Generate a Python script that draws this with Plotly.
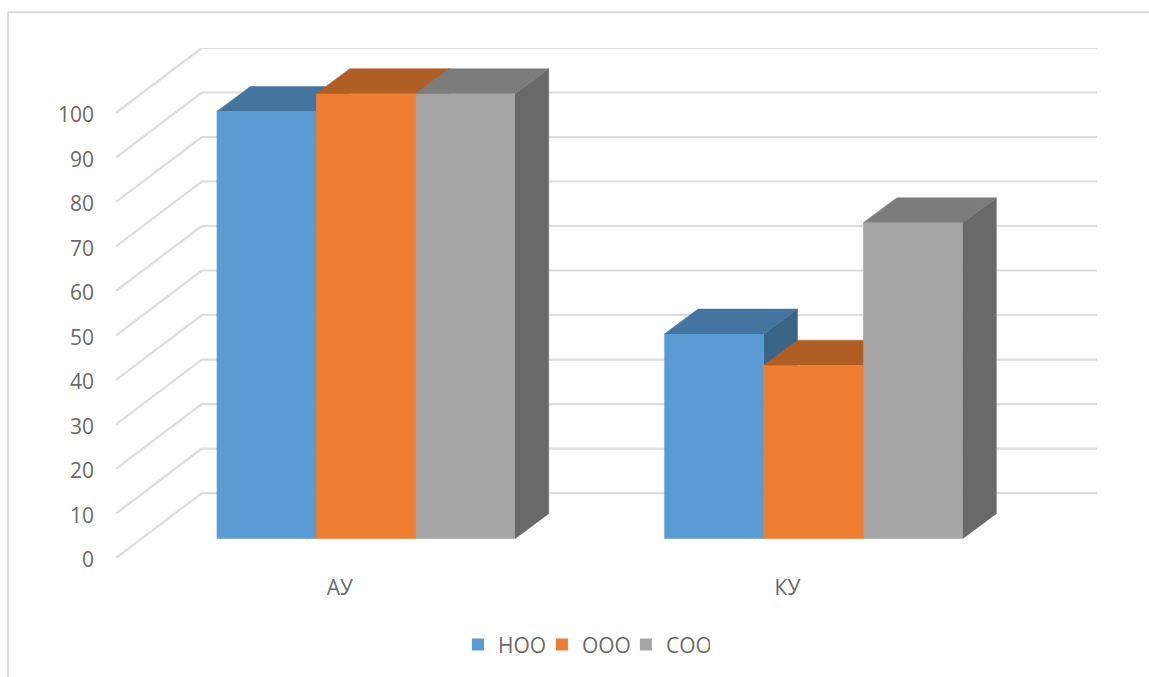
import plotly.graph_objects as go

categories = ["АУ", "КУ"]
series_names = ["НОО", "ООО", "СОО"]
noo_values = [96, 46]
ooo_values = [100, 39]
soo_values = [100, 71]
value_ticks = [0, 10, 20, 30, 40, 50, 60, 70, 80, 90, 100]

front_colors = ["#5B9BD5", "#ED7D31", "#A5A5A5"]
top_colors = ["#44759F", "#B15E24", "#7C7C7C"]
side_colors = ["#3A6587", "#9A5220", "#696969"]
GRID = "#DDDDDD"
TEXT = "#6A6A6A"
FONT = "Open Sans"

W, H = 1149, 677
L, R, T, B = 116.0, 1097.0, 47.7, 558.0
cat_px = 447.5
val_px = (B - T) / 114.6

wall_dx = 85.7 / cat_px          # depth of the chart box
wall_dy = 65.0 / val_px
x_min = -0.5
x_max = 1.5 + wall_dx
y_max = 100 + wall_dy

bar_w = 99.4 / cat_px
bar_shift = 26.0 / cat_px        # bars stand inside the box
bar_base = 19.3 / val_px
depth_dx = 33.7 / cat_px         # depth of each bar
depth_dy = 25.0 / val_px

all_values = [noo_values, ooo_values, soo_values]

fig = go.Figure()

# walls: diagonal + back gridline for every tick
for v in value_ticks:
    fig.add_trace(go.Scatter(
        x=[x_min, x_min + wall_dx, x_max],
        y=[v, v + wall_dy, v + wall_dy],
        mode="lines", line=dict(color=GRID, width=2.2),
        showlegend=False, hoverinfo="skip"))

# 3D faces (top and right side) computed from the values
for c in range(len(categories)):
    for s in range(len(series_names)):
        left = c + bar_shift + (s - 1.5) * bar_w
        right = left + bar_w
        top = bar_base + all_values[s][c]
        fig.add_trace(go.Scatter(
            x=[right, right + depth_dx, right + depth_dx, right, right],
            y=[bar_base, bar_base + depth_dy, top + depth_dy, top, bar_base],
            mode="lines", fill="toself", fillcolor=side_colors[s],
            line=dict(color=side_colors[s], width=0.5),
            showlegend=False, hoverinfo="skip"))
        fig.add_trace(go.Scatter(
            x=[left, right, right + depth_dx, left + depth_dx, left],
            y=[top, top, top + depth_dy, top + depth_dy, top],
            mode="lines", fill="toself", fillcolor=top_colors[s],
            line=dict(color=top_colors[s], width=0.5),
            showlegend=False, hoverinfo="skip"))

# front faces: real bars on an overlaying axis pair so they cover the faces
for s, name in enumerate(series_names):
    fig.add_trace(go.Bar(
        x=[i + bar_shift for i in range(len(categories))],
        y=all_values[s],
        base=[bar_base] * len(categories),
        name=name,
        marker=dict(color=front_colors[s], line=dict(width=0)),
        xaxis="x2", yaxis="y2"))

fig.update_layout(
    width=W, height=H,
    autosize=False,
    margin=dict(l=L, r=W - R, t=T, b=H - B, pad=0),
    paper_bgcolor="white", plot_bgcolor="white",
    barmode="group",
    bargap=1 - 3 * bar_w,
    bargroupgap=0,
    font=dict(family=FONT, size=21, color=TEXT),
    xaxis=dict(
        range=[x_min, x_max],
        tickmode="array", tickvals=list(range(len(categories))), ticktext=categories,
        showgrid=False, zeroline=False, showline=False, ticks="",
        ticklabelstandoff=15, tickfont=dict(family=FONT, size=21, color=TEXT)),
    yaxis=dict(
        range=[0, y_max],
        tickmode="array", tickvals=value_ticks,
        showgrid=False, zeroline=False, showline=False, ticks="",
        ticklabelstandoff=21, ticklabelshift=2,
        tickfont=dict(family=FONT, size=21, color=TEXT)),
    xaxis2=dict(range=[x_min, x_max], overlaying="x", visible=False),
    yaxis2=dict(range=[0, y_max], overlaying="y", visible=False),
    legend=dict(
        orientation="h", x=0.477, xanchor="center",
        y=(B - 645) / (B - T), yanchor="middle",
        entrywidthmode="pixels", entrywidth=39,
        font=dict(family=FONT, size=21, color=TEXT),
        bgcolor="rgba(0,0,0,0)"),
    shapes=[
        dict(type="line", xref="paper", yref="paper",
             x0=(8 - L) / (R - L), x1=(W - L) / (R - L),
             y0=(B - 12) / (B - T), y1=(B - 12) / (B - T),
             line=dict(color="#DADADA", width=2)),
        dict(type="line", xref="paper", yref="paper",
             x0=(8 - L) / (R - L), x1=(8 - L) / (R - L),
             y0=(B - 12) / (B - T), y1=(B - 677) / (B - T),
             line=dict(color="#DADADA", width=2)),
    ],
)

fig.write_html("out.html", config={"displayModeBar": False},
               post_script="document.body.style.margin='0';")
